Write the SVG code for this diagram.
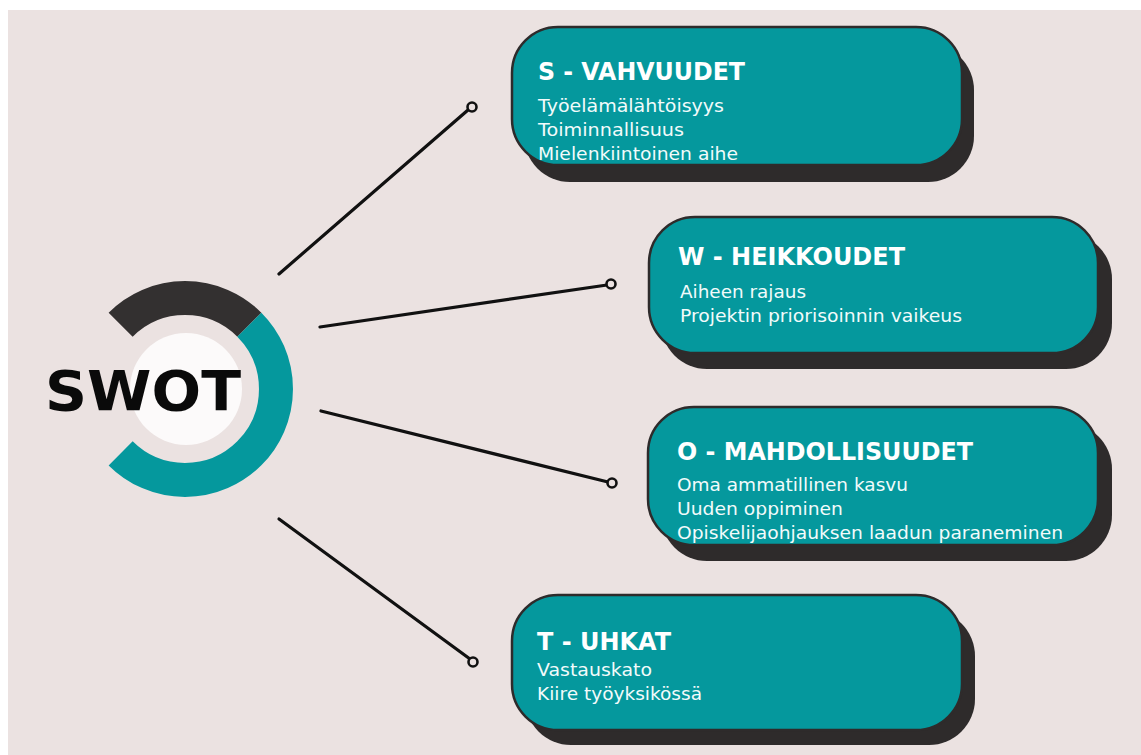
<svg xmlns="http://www.w3.org/2000/svg" width="1141" height="755" viewBox="0 0 1141 755">
  <style>
    .shadow { fill: #2e2b2b; }
    .box { fill: #05989d; stroke: #2e2b2b; stroke-width: 2.5; }
    .title { font-family: "DejaVu Sans", "Liberation Sans", sans-serif; font-weight: bold; font-size: 25px; fill: #ffffff; }
    .body { font-family: "DejaVu Sans", "Liberation Sans", sans-serif; font-size: 18px; fill: #f2fbfb; }
    .conn { stroke: #111111; stroke-width: 3.2; stroke-linecap: round; fill: none; }
    .dot { fill: #ebe2e1; stroke: #111111; stroke-width: 2.6; }
  </style>
  <rect x="0" y="0" width="1141" height="755" fill="#ffffff"/>
  <rect x="8" y="10" width="1133" height="745" fill="#ebe2e1"/>

  <g id="swot-center">
    <path d="M120.65,324.65 A91,91 0 0 1 249.35,324.65" fill="none" stroke="#333030" stroke-width="34"/>
    <path d="M249.35,324.65 A91,91 0 0 1 120.65,453.35" fill="none" stroke="#05989d" stroke-width="34"/>
    <circle cx="186" cy="389" r="56" fill="#fcfafa"/>
    <text x="45" y="410" font-family="DejaVu Sans, Liberation Sans, sans-serif" font-weight="bold" font-size="55" fill="#0a0a0a" textLength="196" lengthAdjust="spacingAndGlyphs">SWOT</text>
  </g>

  <g id="connectors">
    <line class="conn" x1="279" y1="274" x2="468" y2="110"/>
    <circle class="dot" cx="472" cy="107" r="4.5"/>
    <line class="conn" x1="320" y1="327" x2="607" y2="285"/>
    <circle class="dot" cx="611" cy="284" r="4.5"/>
    <line class="conn" x1="321" y1="411" x2="608" y2="482"/>
    <circle class="dot" cx="612" cy="483" r="4.5"/>
    <line class="conn" x1="279" y1="519" x2="470" y2="659"/>
    <circle class="dot" cx="473" cy="662" r="4.5"/>
  </g>

  <g id="node-s">
    <rect class="shadow" x="524" y="44" width="450" height="138" rx="46"/>
    <rect class="box" x="512" y="27" width="450" height="138" rx="46"/>
    <text class="title" x="538" y="80" textLength="207" lengthAdjust="spacingAndGlyphs">S - VAHVUUDET</text>
    <text class="body" x="538" y="112" textLength="186" lengthAdjust="spacingAndGlyphs">Työelämälähtöisyys</text>
    <text class="body" x="538" y="136" textLength="146" lengthAdjust="spacingAndGlyphs">Toiminnallisuus</text>
    <text class="body" x="538" y="160" textLength="200" lengthAdjust="spacingAndGlyphs">Mielenkiintoinen aihe</text>
  </g>

  <g id="node-w">
    <rect class="shadow" x="661" y="233" width="451" height="136" rx="46"/>
    <rect class="box" x="649" y="217" width="449" height="136" rx="46"/>
    <text class="title" x="678" y="265" textLength="227" lengthAdjust="spacingAndGlyphs">W - HEIKKOUDET</text>
    <text class="body" x="680" y="298" textLength="126" lengthAdjust="spacingAndGlyphs">Aiheen rajaus</text>
    <text class="body" x="680" y="322" textLength="282" lengthAdjust="spacingAndGlyphs">Projektin priorisoinnin vaikeus</text>
  </g>

  <g id="node-o">
    <rect class="shadow" x="661" y="423" width="451" height="138" rx="46"/>
    <rect class="box" x="648" y="407" width="450" height="138" rx="46"/>
    <text class="title" x="677" y="460" textLength="296" lengthAdjust="spacingAndGlyphs">O - MAHDOLLISUUDET</text>
    <text class="body" x="677" y="491" textLength="231" lengthAdjust="spacingAndGlyphs">Oma ammatillinen kasvu</text>
    <text class="body" x="677" y="515" textLength="166" lengthAdjust="spacingAndGlyphs">Uuden oppiminen</text>
    <text class="body" x="677" y="539" textLength="386" lengthAdjust="spacingAndGlyphs">Opiskelijaohjauksen laadun paraneminen</text>
  </g>

  <g id="node-t">
    <rect class="shadow" x="525" y="610" width="450" height="135" rx="46"/>
    <rect class="box" x="512" y="595" width="450" height="135" rx="46"/>
    <text class="title" x="537" y="650" textLength="134" lengthAdjust="spacingAndGlyphs">T - UHKAT</text>
    <text class="body" x="537" y="676" textLength="115" lengthAdjust="spacingAndGlyphs">Vastauskato</text>
    <text class="body" x="537" y="700" textLength="165" lengthAdjust="spacingAndGlyphs">Kiire työyksikössä</text>
  </g>
</svg>
